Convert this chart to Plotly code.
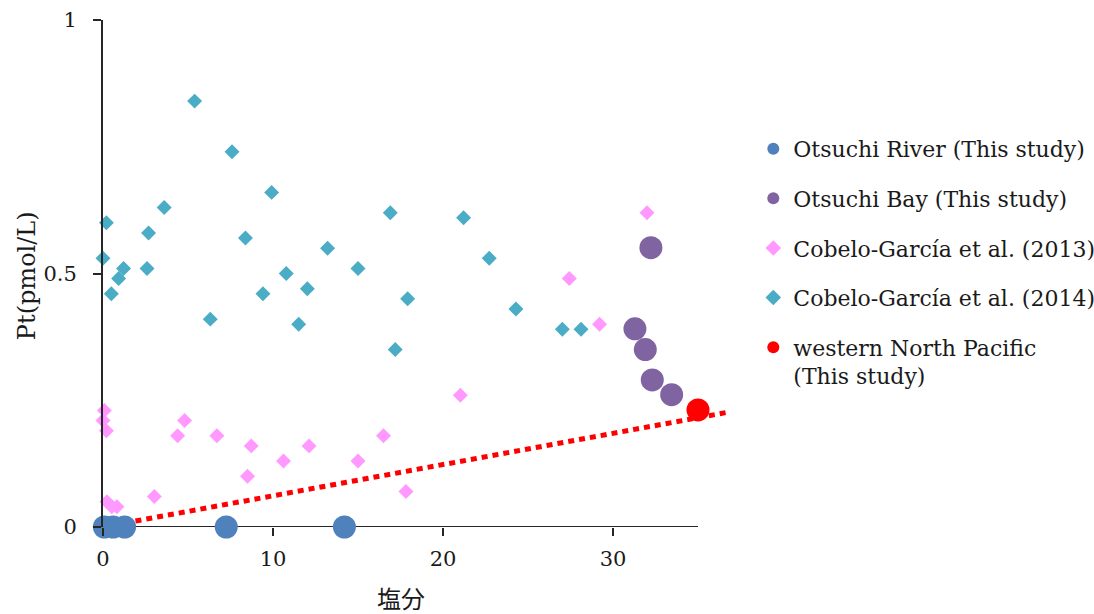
import plotly.graph_objects as go

# --- data ---
river_x = [0.08, 0.6, 1.27, 7.25, 14.2]
river_y = [0, 0, 0, 0, 0]

bay_x = [31.29, 31.9, 32.23, 32.31, 33.45]
bay_y = [0.391, 0.350, 0.551, 0.290, 0.261]

wnp_x = [35.0]
wnp_y = [0.231]

c2013_x = [32.0, 27.43, 29.21, 21.02, 0.08, 0.0, 0.2, 4.8, 4.39, 6.7, 8.72,
           10.62, 8.5, 12.12, 15.0, 16.5, 17.82, 3.02, 0.23, 0.52, 0.82]
c2013_y = [0.62, 0.49, 0.40, 0.26, 0.23, 0.21, 0.19, 0.21, 0.18, 0.18, 0.16,
           0.13, 0.10, 0.16, 0.13, 0.18, 0.07, 0.06, 0.05, 0.04, 0.04]

c2014_x = [5.39, 7.59, 9.92, 3.6, 0.2, 2.68, 8.38, 16.9, 21.21, 0.0, 1.21,
           2.59, 0.92, 0.49, 6.31, 9.41, 10.78, 12.02, 13.21, 15.0, 11.51,
           17.19, 17.92, 22.72, 24.29, 27.02, 28.12]
c2014_y = [0.84, 0.74, 0.66, 0.63, 0.60, 0.58, 0.57, 0.62, 0.61, 0.53, 0.51,
           0.51, 0.49, 0.46, 0.41, 0.46, 0.50, 0.47, 0.55, 0.51, 0.40,
           0.35, 0.45, 0.53, 0.43, 0.39, 0.39]

mix_x = [0, 36.7]
mix_y = [0, 0.226]

x_ticks = [0, 10, 20, 30]
y_ticks = [0, 0.5, 1]
y_tick_text = ["0", "0.5", "1"]

FONT = "DejaVu Serif"
TXT = "#1a1a1a"
AX = "#262626"

fig = go.Figure()

fig.add_trace(go.Scatter(x=mix_x, y=mix_y, mode="lines", showlegend=False,
                         line=dict(color="#ff0000", width=5, dash="6px,5px"),
                         hoverinfo="skip"))
fig.add_trace(go.Scatter(x=river_x, y=river_y, mode="markers",
                         name="Otsuchi River (This study)", cliponaxis=False,
                         marker=dict(symbol="circle", size=23, color="#4f81bd")))
fig.add_trace(go.Scatter(x=bay_x, y=bay_y, mode="markers",
                         name="Otsuchi Bay (This study)", cliponaxis=False,
                         marker=dict(symbol="circle", size=23, color="#8064a2")))
fig.add_trace(go.Scatter(x=c2013_x, y=c2013_y, mode="markers",
                         name="Cobelo-García et al. (2013)", cliponaxis=False,
                         marker=dict(symbol="diamond", size=11.5, color="#ff99ff")))
fig.add_trace(go.Scatter(x=c2014_x, y=c2014_y, mode="markers",
                         name="Cobelo-García et al. (2014)", cliponaxis=False,
                         marker=dict(symbol="diamond", size=11.5, color="#4bacc6")))
fig.add_trace(go.Scatter(x=wnp_x, y=wnp_y, mode="markers",
                         name="western North Pacific<br>(This study)", cliponaxis=False,
                         marker=dict(symbol="circle", size=23, color="#ff0000")))

L, T = 102.7, 20
PW = 37 * 17.0
PH = 507.3
fig.update_layout(
    width=1094, height=614,
    margin=dict(l=L, t=T, r=1094 - L - PW, b=614 - T - PH, pad=0, autoexpand=False),
    paper_bgcolor="white", plot_bgcolor="white",
    font=dict(family=FONT, size=21, color=TXT),
    showlegend=True,
    legend=dict(x=(753 - L) / PW, xanchor="left", y=(527.3 - 128) / PH, yanchor="top",
                font=dict(family=FONT, size=22, color=TXT),
                itemsizing="constant", valign="top", tracegroupgap=18,
                bgcolor="rgba(0,0,0,0)"),
    xaxis=dict(range=[0, 37], showline=False, showgrid=False, zeroline=False,
               tickvals=x_ticks, ticks="outside", ticklen=8, tickwidth=2,
               tickcolor=AX, ticklabelstandoff=5, automargin=False,
               tickfont=dict(family=FONT, size=21, color=TXT)),
    yaxis=dict(range=[0, 1], showline=True, linecolor=AX, linewidth=2,
               showgrid=False, zeroline=False, automargin=False,
               tickvals=y_ticks, ticktext=y_tick_text, ticks="outside",
               ticklen=8, tickwidth=2, tickcolor=AX, ticklabelstandoff=12,
               tickfont=dict(family=FONT, size=21, color=TXT)),
    shapes=[dict(type="line", xref="x", yref="y", x0=0, x1=35, y0=0, y1=0,
                 line=dict(color=AX, width=2), layer="below")],
    annotations=[
        dict(text="塩分", xref="x", yref="paper", x=17.5, y=(527.3 - 598) / PH,
             showarrow=False, xanchor="center", yanchor="middle",
             font=dict(family="Noto Sans CJK JP", size=24, color=TXT)),
        dict(text="Pt(pmol/L)", xref="paper", yref="paper", x=(27 - L) / PW,
             y=(527.3 - 276) / PH, showarrow=False, textangle=-90,
             xanchor="center", yanchor="middle",
             font=dict(family=FONT, size=24, color=TXT)),
    ],
)

for i, _ in enumerate(fig.data):
    fig.data[i].legendgroup = "g%d" % i

fig.write_html("out.html")
